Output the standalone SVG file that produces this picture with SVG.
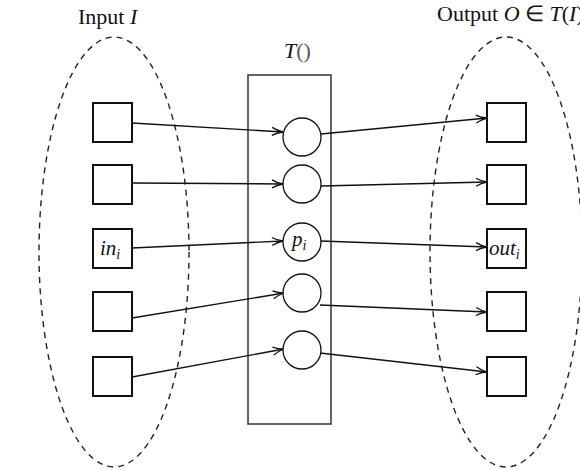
<svg xmlns="http://www.w3.org/2000/svg" width="580" height="470" viewBox="0 0 580 470">
<defs>
<marker id="ah" markerWidth="14" markerHeight="10" refX="12" refY="5" orient="auto" markerUnits="userSpaceOnUse">
<path d="M1,1 Q6,4 12,5 Q6,6 1,9" fill="none" stroke="#111" stroke-width="1.3"/>
</marker>
</defs>
<style>
.ell{fill:none;stroke:#222;stroke-width:1.4;stroke-dasharray:6,5}
.sq{fill:#fff;stroke:#111;stroke-width:2}
.ci{fill:#fff;stroke:#111;stroke-width:1.3}
.box{fill:none;stroke:#333;stroke-width:1.5}
.arr{fill:none;stroke:#111;stroke-width:1.4;marker-end:url(#ah)}
text{font-family:"Liberation Serif","Times New Roman",serif;fill:#111}
.t{font-size:22px}
.m{font-style:italic;font-size:21px}
.s{font-style:italic;font-size:14px}
</style>
<g id="input-set">
<ellipse class="ell" cx="114" cy="252" rx="75" ry="215"/>
<text class="t" x="78" y="24">Input <tspan font-style="italic">I</tspan></text>
</g>
<g id="output-set">
<ellipse class="ell" cx="506" cy="252" rx="76" ry="215"/>
<text class="t" x="437" y="21">Output <tspan font-style="italic">O</tspan> ∈ <tspan font-style="italic">T</tspan>(<tspan font-style="italic">I</tspan>)</text>
</g>
<g id="transform">
<rect class="box" x="248" y="75" width="83" height="349"/>
<text class="t" x="284" y="58" font-size="21"><tspan font-style="italic">T</tspan><tspan fill="#555">()</tspan></text>
</g>
<g id="connectors">
<line class="arr" x1="132" y1="123" x2="283" y2="132"/>
<line class="arr" x1="132" y1="183" x2="283" y2="184"/>
<line class="arr" x1="132" y1="248" x2="283" y2="241"/>
<line class="arr" x1="132" y1="318" x2="284" y2="293"/>
<line class="arr" x1="132" y1="377" x2="284" y2="349"/>
<line class="arr" x1="321" y1="134" x2="487" y2="118"/>
<line class="arr" x1="321" y1="186" x2="487" y2="182"/>
<line class="arr" x1="321" y1="241" x2="487" y2="247"/>
<line class="arr" x1="320" y1="305" x2="487" y2="312"/>
<line class="arr" x1="320" y1="353" x2="487" y2="372"/>
</g>
<g id="in1"><rect class="sq" x="93" y="103" width="39" height="39"/></g>
<g id="in2"><rect class="sq" x="93" y="165" width="39" height="39"/></g>
<g id="in3"><rect class="sq" x="93" y="229" width="39" height="39"/><text class="m" x="100" y="255">in<tspan class="s" dy="4">i</tspan></text></g>
<g id="in4"><rect class="sq" x="93" y="292" width="39" height="39"/></g>
<g id="in5"><rect class="sq" x="93" y="357" width="39" height="39"/></g>
<g id="p1"><circle class="ci" cx="302" cy="137" r="19"/></g>
<g id="p2"><circle class="ci" cx="302" cy="184" r="19"/></g>
<g id="p3"><circle class="ci" cx="302" cy="242" r="19"/><text class="m" x="292" y="246">p<tspan class="s" dy="4">i</tspan></text></g>
<g id="p4"><circle class="ci" cx="302" cy="293" r="19"/></g>
<g id="p5"><circle class="ci" cx="302" cy="350" r="19"/></g>
<g id="out1"><rect class="sq" x="487" y="103" width="39" height="39"/></g>
<g id="out2"><rect class="sq" x="487" y="165" width="39" height="39"/></g>
<g id="out3"><rect class="sq" x="487" y="229" width="39" height="39"/><text class="m" x="489" y="255">out<tspan class="s" dy="4">i</tspan></text></g>
<g id="out4"><rect class="sq" x="487" y="292" width="39" height="39"/></g>
<g id="out5"><rect class="sq" x="487" y="357" width="39" height="39"/></g>
</svg>
